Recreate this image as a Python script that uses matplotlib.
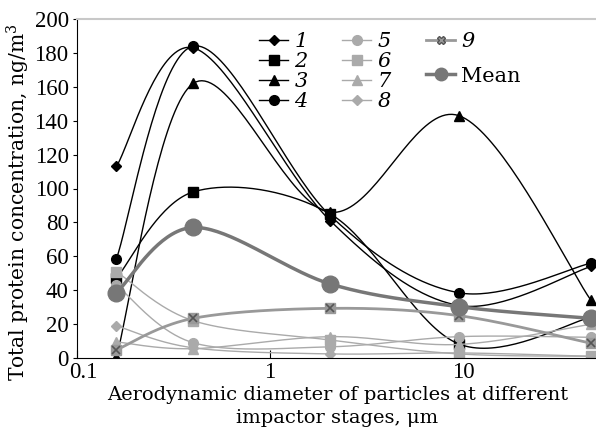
import numpy as np
import matplotlib
matplotlib.use("Agg")
import matplotlib.pyplot as plt
import matplotlib.transforms as mtransforms

plt.rcParams['font.family'] = ['DejaVu Serif']
plt.rcParams['mathtext.fontset'] = 'dejavuserif'

# impactor stage diameters (um) and protein concentrations (ng/m3)
diam = [0.16, 0.4, 2.05, 9.5, 46]
s1 = [113, 183, 81, 31, 54]
s2 = [47, 98, 85, 8.3, 24]
s3 = [0.5, 162, 86, 143, 34]
s4 = [58.5, 184, 84, 38.5, 56]
s5 = [43, 9, 6.6, 12.6, 12.2]
s6 = [51, 22, 10.6, 2.4, 1]
s7 = [9.5, 5.5, 12.6, 8, 20]
s8 = [19, 6, 2.4, 3, 1]
s9 = [4.8, 23.4, 29.3, 25, 8.7]
mean = [38.5, 77, 43.7, 30.3, 23.4]


def smooth(x, y, n=40):
    # excel-like smoothed line (catmull-rom bezier in log-x space)
    u = np.log10(x)
    p = np.column_stack([u, y])
    p = np.vstack([p[0], p, p[-1]])
    xs, ys = [], []
    t = np.linspace(0, 1, n)[:, None]
    for i in range(1, len(p) - 2):
        b0 = p[i]
        b1 = p[i] + (p[i + 1] - p[i - 1]) / 6
        b2 = p[i + 1] - (p[i + 2] - p[i]) / 6
        b3 = p[i + 1]
        c = (1 - t) ** 3 * b0 + 3 * (1 - t) ** 2 * t * b1 + 3 * (1 - t) * t ** 2 * b2 + t ** 3 * b3
        xs.append(c[:, 0])
        ys.append(c[:, 1])
    return 10 ** np.concatenate(xs), np.concatenate(ys)


W, H = 596, 432
fig = plt.figure(figsize=(W / 100, H / 100), dpi=100)
ax = fig.add_axes([77 / W, (H - 358) / H, 521 / W, 339 / H])

black = dict(color='black', lw=1.0)
light = dict(color='#aaaaaa', lw=1.0)
series = [
    (s1, '1', 'D', 5, black, 'black'),
    (s2, '2', 's', 6.5, black, 'black'),
    (s3, '3', '^', 7, black, 'black'),
    (s4, '4', 'o', 7, black, 'black'),
    (s5, '5', 'o', 7, light, '#aaaaaa'),
    (s6, '6', 's', 6.5, light, '#aaaaaa'),
    (s7, '7', '^', 7, light, '#aaaaaa'),
    (s8, '8', 'D', 5, light, '#aaaaaa'),
]
handles = []
for vals, lab, mk, ms, st, mc in series:
    sx, sy = smooth(diam, vals)
    ax.plot(sx, sy, **st)
    ax.plot(diam, vals, ls='none', marker=mk, ms=ms, color=mc)
    h, = ax.plot([], [], marker=mk, ms=ms, color=mc, lw=1.0)
    handles.append(h)

sx, sy = smooth(diam, s9)
ax.plot(sx, sy, color='#999999', lw=2.0)
ax.plot(diam, s9, ls='none', marker='s', ms=7, color='#999999')
ax.plot(diam, s9, ls='none', marker='x', ms=6, color='#555555', mew=1.2)
h9, = ax.plot([], [], marker='X', ms=6, color='#999999', mfc='#999999', mec='#555555', lw=2.0)

sx, sy = smooth(diam, mean)
ax.plot(sx, sy, color='#777777', lw=2.5)
ax.plot(diam, mean, ls='none', marker='o', ms=12, color='#777777')
hm, = ax.plot([], [], marker='o', ms=9, color='#777777', lw=2.5)

ax.set_xscale('log')
ax.set_xlim(0.1, 50)
ax.set_ylim(0, 200)
ax.set_yticks(range(0, 201, 20))
ax.set_xticks([0.1, 1, 10])
ax.set_xticklabels(['0.1', '1', '10'])
ax.xaxis.set_minor_locator(matplotlib.ticker.NullLocator())
ax.tick_params(axis='x', direction='in', length=6, labelsize=16.5, pad=3)
ax.tick_params(axis='y', direction='out', length=3, labelsize=16.5, pad=3)
for t in ax.get_xticklabels() + ax.get_yticklabels():
    t.set_fontfamily('Liberation Serif')
ax.spines['right'].set_visible(False)
ax.spines['top'].set_color('#c8c8c8')
ax.spines['top'].set_linewidth(1.5)

# nudge the "0.1" label right so it clears the "0" on the y axis
lbl = ax.get_xticklabels()[0]
lbl.set_transform(lbl.get_transform() + mtransforms.ScaledTranslation(6 / 100, 0, fig.dpi_scale_trans))

ax.set_xlabel('Aerodynamic diameter of particles at different\nimpactor stages, μm',
              fontsize=14, linespacing=1.35, labelpad=2)
ax.set_ylabel('Total protein concentration, ng/m$^3$', fontsize=14.6)
ax.yaxis.set_label_coords(-0.086, 0.46)

leg_kw = dict(frameon=False, handlelength=1.4, handletextpad=0.3, labelspacing=0.05,
              borderpad=0, borderaxespad=0, fontsize=15, loc='upper left')
l1 = ax.legend(handles[:4], ['1', '2', '3', '4'], bbox_to_anchor=(259 / W, 1 - 32 / H),
               bbox_transform=fig.transFigure, **leg_kw)
l2 = ax.legend(handles[4:], ['5', '6', '7', '8'], bbox_to_anchor=(342 / W, 1 - 32 / H),
               bbox_transform=fig.transFigure, **leg_kw)
l3 = ax.legend([h9, hm], ['9', 'Mean'], bbox_to_anchor=(426 / W, 1 - 32 / H),
               bbox_transform=fig.transFigure, **dict(leg_kw, labelspacing=0.75))
for lg in (l1, l2):
    for t in lg.get_texts():
        t.set_style('italic')
l3.get_texts()[0].set_style('italic')
ax.add_artist(l1)
ax.add_artist(l2)

fig.savefig('out.png', dpi=100)
